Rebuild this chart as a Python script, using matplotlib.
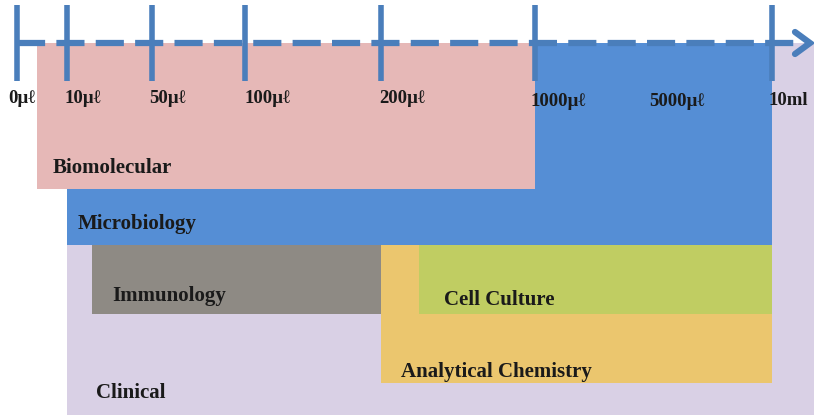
import matplotlib.pyplot as plt
from matplotlib.patches import Rectangle

plt.rcParams['font.family'] = ['Liberation Serif', 'DejaVu Serif']

# volume marks along the scale
volume_labels = ['0\u00b5\u2113', '10\u00b5\u2113', '50\u00b5\u2113', '100\u00b5\u2113',
                 '200\u00b5\u2113', '1000\u00b5\u2113', '5000\u00b5\u2113', '10ml']
volume_pos = [17, 67, 152, 245, 381, 535, 680, 772]
has_tick = [True, True, True, True, True, True, False, True]

# application ranges on the volume scale
applications = ['Clinical', 'Microbiology', 'Biomolecular', 'Analytical Chemistry',
                'Cell Culture', 'Immunology']
range_start = [67, 67, 37, 381, 419, 92]
range_end = [814, 772, 535, 772, 772, 381]
band_top = [43, 43, 43, 245, 245, 245]
band_bottom = [415, 245, 189, 383, 314, 314]

colors = ['#D9D0E5', '#558ED5', '#E6B8B7', '#EBC66E', '#C0CD62', '#8E8A84']
label_xy = [(96, 393), (78, 224), (53, 168), (401, 372), (444, 300), (112, 296)]

fig = plt.figure(figsize=(8.14, 4.15), dpi=100)
ax = fig.add_axes([0, 0, 1, 1])
ax.set_xlim(0, 814)
ax.set_ylim(415, 0)
ax.axis('off')

for name, x0, x1, y0, y1, c, (tx, ty) in zip(applications, range_start, range_end,
                                             band_top, band_bottom, colors, label_xy):
    ax.add_patch(Rectangle((x0, y0), x1 - x0, y1 - y0, facecolor=c, edgecolor='none'))
    ax.text(tx, ty, name, fontsize=15, fontweight='bold', color='#1a1a1a',
            ha='left', va='center')

# the volume axis: dashed line with arrow head and tick bars
axis_col = '#4A7EBB'
ax.plot([17, 800], [43, 43], color=axis_col, lw=4.5, ls=(0, (4.5, 1.8)),
        solid_capstyle='butt', zorder=5)
ax.plot([795, 810, 795], [32, 43, 54], color=axis_col, lw=4.5,
        solid_capstyle='round', solid_joinstyle='miter', zorder=5)
for x, t in zip(volume_pos, has_tick):
    if t:
        ax.plot([x, x], [5, 81], color=axis_col, lw=4, solid_capstyle='butt', zorder=6)

label_y = [98, 98, 98, 98, 98, 101, 101, 100]
label_x = [22, 83, 167, 268, 402, 558, 677, 788]
for lab, x, y in zip(volume_labels, label_x, label_y):
    ax.text(x, y, lab, fontsize=13.5, fontweight='bold', color='#1a1a1a',
            ha='center', va='center', zorder=7)

fig.savefig('out.png', dpi=100)
